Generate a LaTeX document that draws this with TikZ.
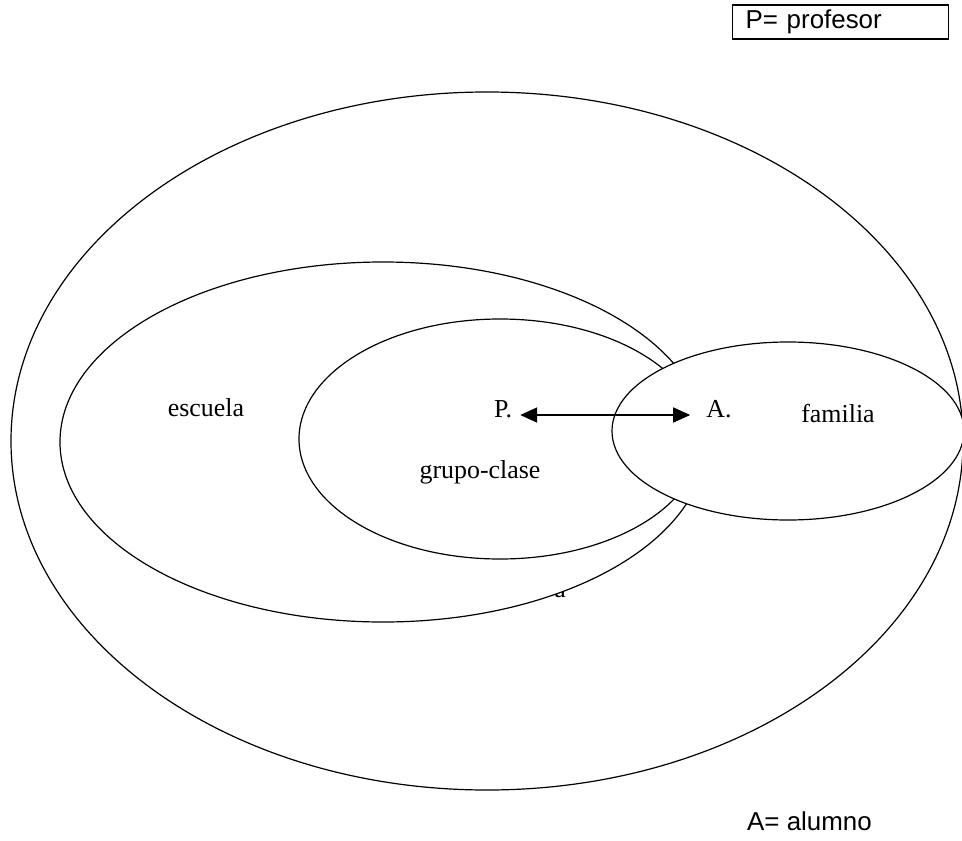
\documentclass[tikz,border=0pt]{standalone}
\usepackage{fontspec}
\setmainfont{Liberation Serif}
\newfontfamily\arialf{Liberation Sans}
\usetikzlibrary{shapes.geometric,arrows.meta}
\begin{document}
\begin{tikzpicture}[x=1bp,y=-1bp,
  ring/.style={draw, ellipse, fill=white, line width=1.2bp, inner sep=0pt, outer sep=0pt},
  lbl/.style={font=\fontsize{26}{30}\selectfont, inner sep=0pt, anchor=base},
  legend/.style={font=\arialf\fontsize{26}{30}\selectfont},
  endpt/.style={font=\fontsize{26}{30}\selectfont, anchor=base, text height=4bp, text depth=0bp, inner ysep=0pt},
  dblarrow/.style={line width=1.6bp, {Triangle[length=17bp,width=15bp]}-{Triangle[length=17bp,width=15bp]}}]
\useasboundingbox (0,0) rectangle (962,841);
% outer ring
\node[ring, minimum width=952bp, minimum height=698bp] (mundo) at (487,441) {};
% partly hidden label
\node[lbl, anchor=base east] (oculto) at (566,597) {a};
% escuela
\node[ring, minimum width=646bp, minimum height=360bp] (escuelaE) at (383,442) {};
% grupo-clase
\node[ring, minimum width=402bp, minimum height=240bp] (grupoE) at (500,439) {};
% familia
\node[ring, minimum width=352bp, minimum height=178bp] (familiaE) at (788,431) {};
% labels
\node[lbl] (tEscuela) at (206,416) {escuela};
\node[lbl] (tGrupo) at (480,478) {grupo-clase};
\node[lbl] (tFamilia) at (838,422) {familia};
\node[endpt, inner xsep=8bp] (P) at (503,417) {P.};
\node[endpt, inner xsep=16bp] (A) at (719,417) {A.};
\draw[dblarrow] (P) -- (A);
% legends
\node[legend, draw, line width=1.4bp, anchor=west, minimum height=34bp, inner xsep=13bp, inner ysep=0pt, text width=190bp, align=left] (leyP) at (732,22) {P= profesor};
\node[legend, anchor=base west, inner sep=0pt] (leyA) at (747,830) {A= alumno};
\end{tikzpicture}
\end{document}
